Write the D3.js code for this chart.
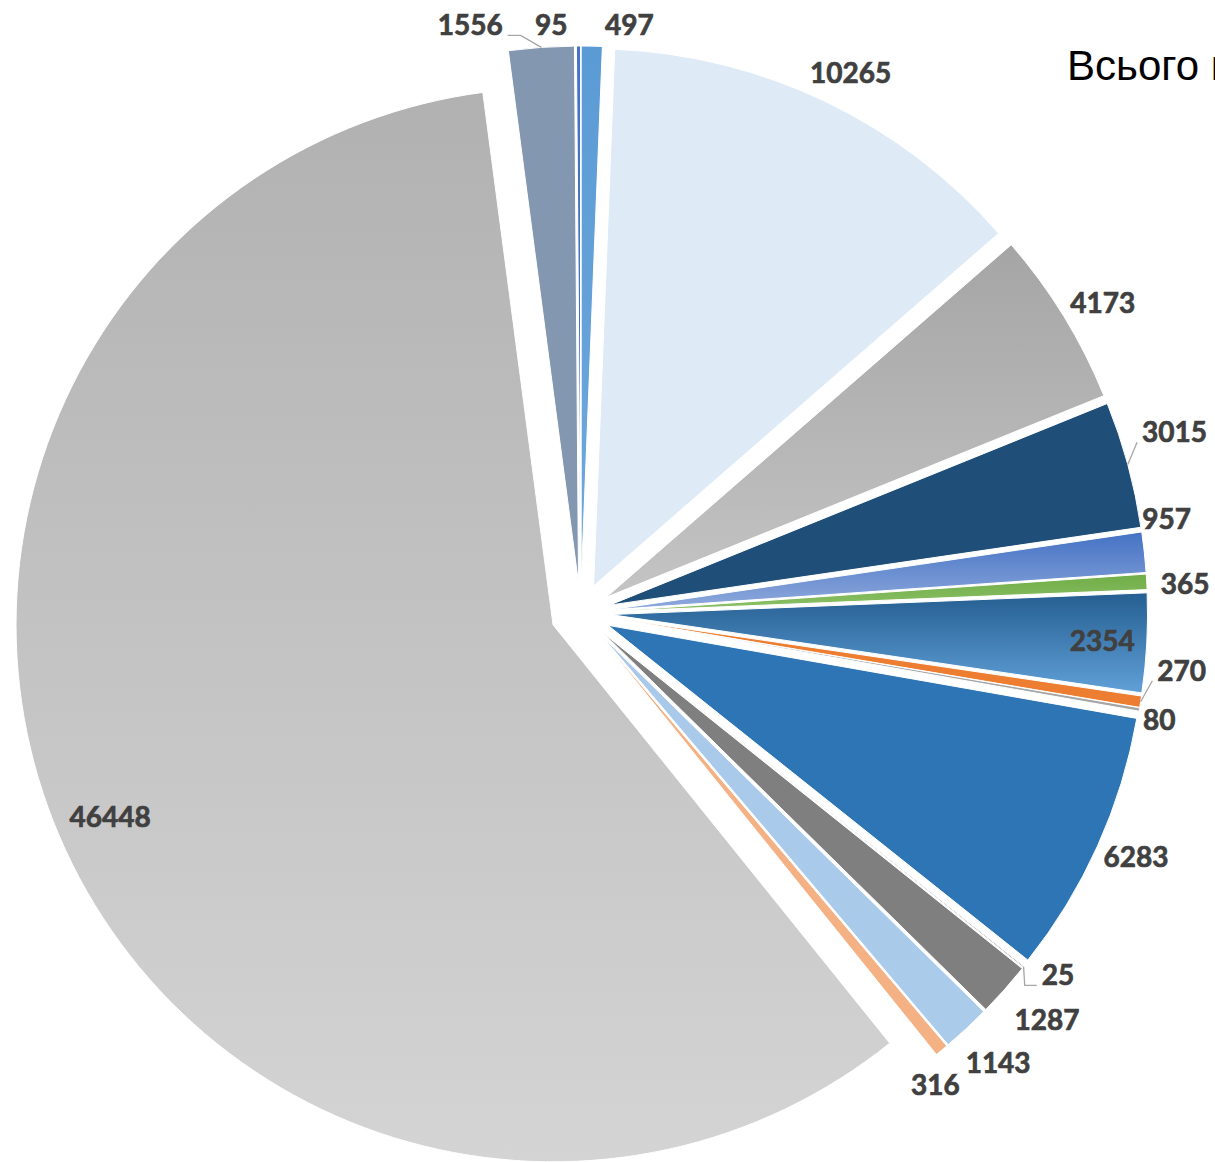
<!DOCTYPE html>
<html>
<head>
<meta charset="utf-8">
<script src="https://cdn.jsdelivr.net/npm/d3@7"></script>
<style>
    body { margin: 0; background: #fff; overflow: hidden; }
</style>
</head>
<body>
<div id="chart"></div>
<script>
// values clockwise from 12 o'clock
const values = [497, 10265, 4173, 3015, 957, 365, 2354, 270, 80, 6283, 25, 1287, 1143, 316, 46448, 1556, 95];
const topColors = ['#5b9bd5', '#deeaf6', '#a5a5a5', '#1f4e79', '#4472c4', '#70ad47', '#255e91', '#ed7d31', '#a5a5a5',
    '#2e75b6', '#636363', '#7f7f7f', '#a9c9ea', '#f4b183', '#b1b1b1', '#8497b0', '#4472c4'];
const bottomColors = ['#6fa8dc', '#deeaf6', '#c4c4c4', '#1f4e79', '#8fa9dc', '#8cc168', '#60a0d8', '#ed7d31', '#a5a5a5',
    '#2e75b6', '#636363', '#7f7f7f', '#abcbeb', '#f4b183', '#d4d4d4', '#8497b0', '#4472c4'];
const insideLabels = [6, 14];
const titleText = 'Всього працівників';

const width = 1215, height = 1162;
const cx = 580.6, cy = 613, radius = 537, explode = 30;
const labelGap = 20, insidePad = 12, boxH = 22;

//Excel moved some labels away from the default spot
const labelShift = {0: [37, 10], 1: [11, 0], 2: [4, 8], 3: [-5, -18], 4: [-22, -28], 5: [-6, 5], 7: [-3, -38], 8: [-16, 4],
    9: [-4, -8], 10: [5, -15], 11: [15, 6], 12: [8, 9], 13: [-28, 8], 14: [14, -3], 15: [-69, 9], 16: [-27, 10]};
//leader lines: index -> horizontal stub length next to the label
const leaders = {3: 0, 7: 0, 10: 12, 15: 13};

let svg = d3.select('#chart').append('svg')
    .attr('width', width)
    .attr('height', height);

let defs = svg.append('defs');
values.forEach((v, i) => {
    let grad = defs.append('linearGradient')
        .attr('id', 'grad' + i)
        .attr('x1', 0).attr('y1', 0).attr('x2', 0).attr('y2', 1);
    grad.append('stop').attr('offset', '0%').attr('stop-color', topColors[i]);
    grad.append('stop').attr('offset', '100%').attr('stop-color', bottomColors[i]);
});

let pie = d3.pie().sort(null).value(d => d);
let arcs = pie(values);
let arc = d3.arc().innerRadius(0).outerRadius(radius);

//each slice pushed out along its middle angle
arcs.forEach(d => {
    d.mid = (d.startAngle + d.endAngle) / 2;
    d.dir = [Math.sin(d.mid), -Math.cos(d.mid)];
    d.ox = cx + explode * d.dir[0];
    d.oy = cy + explode * d.dir[1];
});

let g = svg.append('g');
g.selectAll('path.slice')
    .data(arcs)
    .enter()
    .append('path')
    .attr('class', 'slice')
    .attr('transform', d => 'translate(' + d.ox + ',' + d.oy + ')')
    .attr('d', arc)
    .attr('fill', (d, i) => 'url(#grad' + i + ')')
    .attr('stroke', '#fff')
    .attr('stroke-width', 1);

//labels
let lg = svg.append('g');
let leaderG = svg.append('g');
arcs.forEach((d, i) => {
    let t = lg.append('text')
        .attr('text-anchor', 'middle')
        .attr('font-family', 'Lato, "Open Sans", sans-serif')
        .attr('font-weight', 'bold')
        .attr('font-size', 28)
        .attr('fill', '#404040')
        .attr('stroke', '#404040')
        .attr('stroke-width', 0.7)
        .text(d.data);
    let w = t.node().getComputedTextLength();
    let sx = Math.abs(d.dir[0]), sy = Math.abs(d.dir[1]);
    let half = Math.min(sx > 1e-6 ? (w / 2) / sx : 1e9, sy > 1e-6 ? (boxH / 2) / sy : 1e9);
    let r = insideLabels.indexOf(i) >= 0 ? radius - half - insidePad : radius + labelGap + half;
    let x = d.ox + r * d.dir[0];
    let y = d.oy + r * d.dir[1];
    if (labelShift[i]) {
        x += labelShift[i][0];
        y += labelShift[i][1];
    }
    t.attr('x', x).attr('y', y + 10);

    if (i in leaders) {
        let px = d.ox + radius * d.dir[0];
        let py = d.oy + radius * d.dir[1];
        let right = x > px;
        let ex = right ? x - w / 2 - 5 : x + w / 2 + 5;
        let ey = y + boxH / 2 - 1;
        let stub = leaders[i];
        let pts = [[px, py]];
        if (stub > 0) {
            pts.push([right ? ex - stub : ex + stub, ey]);
        }
        pts.push([ex, ey]);
        leaderG.append('path')
            .attr('d', d3.line()(pts))
            .attr('fill', 'none')
            .attr('stroke', '#a6a6a6')
            .attr('stroke-width', 1.3);
    }
});

//title, cut by the right edge
svg.append('text')
    .attr('x', 1067)
    .attr('y', 80)
    .attr('font-family', '"Liberation Sans", Arial, sans-serif')
    .attr('font-size', 42)
    .attr('fill', '#000')
    .text(titleText);
</script>
</body>
</html>
